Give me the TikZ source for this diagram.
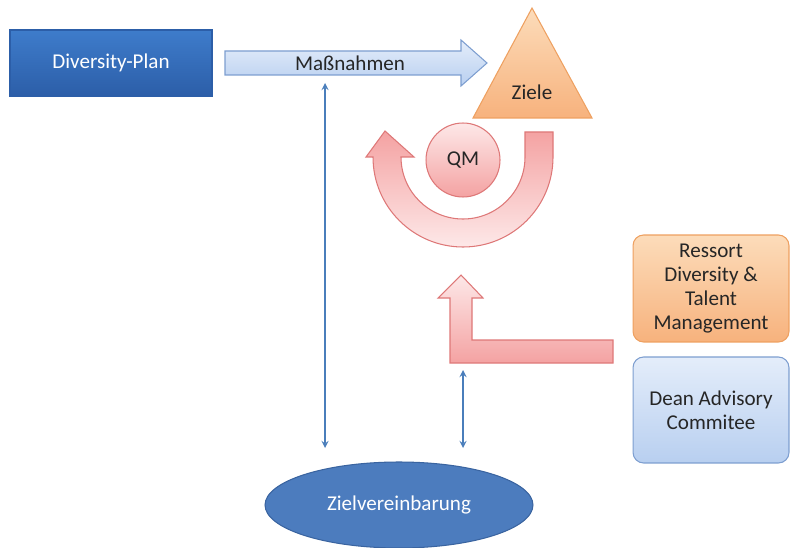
\documentclass[tikz,border=0pt]{standalone}
\usepackage{fontspec}
\setmainfont{Carlito}
\usepackage{xcolor}
\definecolor{planblau}{RGB}{62,124,203}
\definecolor{planblaudunkel}{RGB}{44,94,168}
\definecolor{hellblau}{RGB}{228,237,250}
\definecolor{hellblau2}{RGB}{184,207,240}
\definecolor{randblau}{RGB}{125,158,208}
\definecolor{orangehell}{RGB}{252,220,186}
\definecolor{orangedunkel}{RGB}{247,178,125}
\definecolor{randorange}{RGB}{238,160,96}
\definecolor{rosahell}{RGB}{253,232,232}
\definecolor{rosadunkel}{RGB}{244,162,162}
\definecolor{randrosa}{RGB}{222,120,120}
\definecolor{ellblau}{RGB}{76,124,190}
\definecolor{randellblau}{RGB}{58,100,160}
\definecolor{pfeilblau}{RGB}{74,126,187}
\definecolor{schrift}{RGB}{38,38,38}
\usetikzlibrary{positioning,arrows,shapes.geometric}

\begin{document}
\begin{tikzpicture}[x=0.02cm,y=-0.02cm,font=\fontsize{12}{13.8}\selectfont,text=schrift,
    rand/.style={line width=0.6pt},
    blaubox/.style={rand,draw=randblau,top color=hellblau,bottom color=hellblau2},
    orangebox/.style={rand,draw=randorange,top color=orangehell,bottom color=orangedunkel},
    rosapfeil/.style={rand,draw=randrosa,top color=rosadunkel,bottom color=rosahell},
    verbindung/.style={draw=pfeilblau,line width=0.8pt,stealth-stealth}]
        \useasboundingbox (0,0) rectangle (790,547);                                % Umgebung
        \node[rand,draw=planblaudunkel,top color=planblau,bottom color=planblaudunkel,
              text=white,minimum width=4.04cm,minimum height=1.32cm] (plan) at (111,63) {Diversity-Plan}; % Diversity-Plan
        \draw[blaubox] (225,51) -- (461,51) -- (461,40) -- (487,63) -- (461,86)
              -- (461,75) -- (225,75) -- cycle;                                     % Massnahmen-Pfeil
        \node (massnahmen) at (350,63) {Maßnahmen};                                  % Massnahmen
        \draw[orangebox] (532,8) -- (592,118) -- (473,118) -- cycle;                % Dreieck
        \node (ziele) at (532,92) {Ziele};                                          % Ziele
        \draw[rosapfeil] (525,132) -- (553,132) -- (553,157)
              arc[start angle=0,end angle=180,radius=90]
              -- (366,157) -- (385,131) -- (414,157) -- (401,157)
              arc[start angle=180,end angle=0,radius=62] -- cycle;                  % Kreis-Pfeil
        \node[circle,rand,draw=randrosa,top color=rosahell,bottom color=rosadunkel,
              minimum size=1.48cm] (qm) at (463,160) {QM};                          % QM
        \draw[rosapfeil,top color=rosahell,bottom color=rosadunkel]
              (613,340) -- (613,363) -- (450,363) -- (450,298) -- (438,298)
              -- (461,275) -- (483,298) -- (472,298) -- (472,340) -- cycle;         % L-Pfeil
        \node[orangebox,rounded corners=6pt,minimum width=3.12cm,minimum height=2.14cm,
              align=center] (ressort) at (711,288.5) {Ressort\\Diversity \&\\Talent\\Management}; % Ressort
        \node[blaubox,rounded corners=6pt,minimum width=3.12cm,minimum height=2.12cm,
              align=center] (dean) at (711,410) {Dean Advisory\\Commitee};         % Dean
        \node[ellipse,rand,draw=randellblau,fill=ellblau,text=white,
              minimum width=5.36cm,minimum height=1.72cm] (ziel) at (399,505) {Zielvereinbarung}; % Zielvereinbarung
        \coordinate (m1) at (325,83);                                               % unter Massnahmen
        \coordinate (m2) at (325,448);                                              % ueber Zielvereinbarung
        \coordinate (l1) at (463,370);                                              % unter L-Pfeil
        \coordinate (l2) at (463,448);                                              % ueber Zielvereinbarung
        \draw[verbindung] (m1) -- (m2);                                             % linker Pfeil
        \draw[verbindung] (l1) -- (l2);                                             % rechter Pfeil
    \end{tikzpicture}
\end{document}
